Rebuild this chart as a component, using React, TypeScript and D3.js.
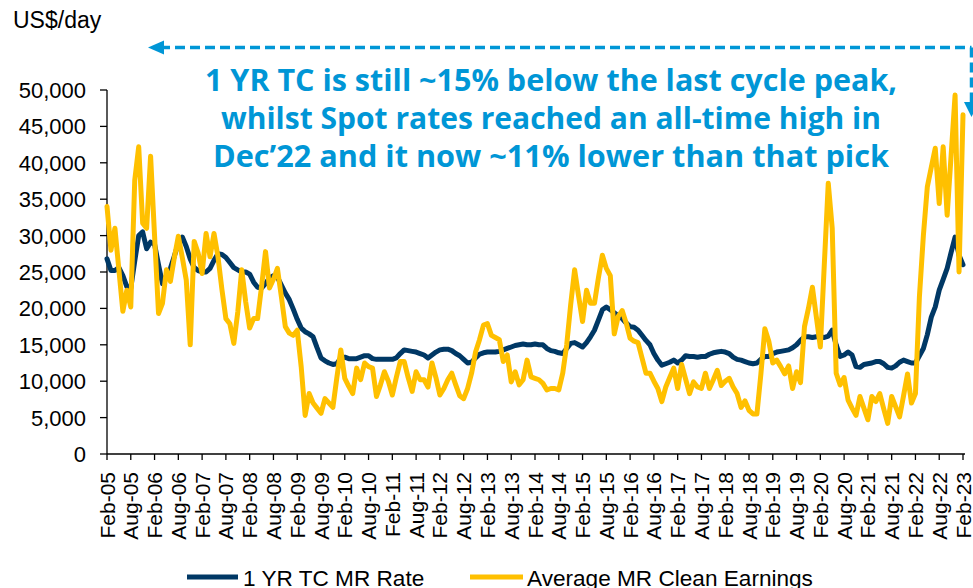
import React from "react";
import * as d3 from "d3";

// Monthly data, Feb-05 .. Feb-23 (US$/day)
const startYear = 2005;
const startMonth = 1; // February (0-based)

const tcRate = [
  26800, 25200, 25200, 25600, 24500, 23000, 22800, 26500, 30000, 30500, 28200, 29100,
  28800, 26000, 23400, 24500, 25500, 27200, 29000, 29800, 28500, 26800, 25600, 25200,
  25000, 25000, 25500, 26600, 27500, 27400, 27000, 26300, 25600, 25300, 25000, 25000,
  24700, 23600, 22900, 22800, 23400, 24200, 24500, 24300, 23200, 22100, 21200, 19900,
  18500, 17300, 16800, 16500, 16100, 14600, 13200, 12800, 12500, 12300, 12400, 13200,
  13300, 13100, 13100, 13100, 13300, 13500, 13500, 13100, 13000, 13000, 13000, 13000,
  13000, 13200, 13800, 14300, 14200, 14100, 14000, 13800, 13600, 13200, 13600, 14000,
  14300, 14400, 14400, 14200, 13800, 13500, 13000, 12500, 12600, 13200, 13700, 13900,
  14000, 14000, 14000, 14100, 14300, 14500, 14700, 14900, 15000, 15100, 15000, 15000,
  15100, 15000, 15000, 14500, 14200, 14100, 13900, 13800, 14500, 15200, 15300, 15000,
  14700, 15300, 16100, 17000, 18400, 19800, 20200, 19800, 19400, 19000, 18600, 18000,
  17500, 17400, 17000, 16300, 15600, 15000, 13800, 12900, 12200, 12400, 12600, 12900,
  12500, 12900, 13500, 13400, 13400, 13300, 13400, 13400, 13700, 13900, 14000, 14100,
  14000, 13800, 13300, 13000, 12900, 12700, 12500, 12400, 12500, 13000, 13400, 13400,
  13800, 14000, 14100, 14200, 14300, 14600, 15000, 15600, 16100, 16100, 16000, 16100,
  16100, 16000, 16200, 17000, 15000, 13400, 13600, 14000, 13600, 12000, 11900, 12300,
  12400, 12500, 12700, 12700, 12400, 11900, 11800, 12100, 12600, 12900, 12700, 12500,
  12500, 13500, 14500, 16400, 18800, 20200, 22500, 24000, 25500, 27700, 29800, 27300,
  26000,
];

const cleanEarnings = [
  34000, 28000, 31000, 25300, 19600, 22500, 20200, 37600, 42200, 31700, 31000, 40900,
  30000, 19300, 20700, 25300, 23700, 27000, 29900, 27000, 23900, 15000, 29200, 27600,
  24800, 30300, 27100, 30300, 27100, 22600, 18600, 17900, 15200, 19500, 25300, 20900,
  17300, 18600, 18600, 23000, 27800, 22800, 24000, 25500, 21600, 17500, 16600, 16300,
  17000, 12000, 5300, 8300, 7000, 6300, 5600, 7600, 7000, 6400, 10500, 14300,
  10400, 9300, 8300, 11800, 10200, 12500, 12000, 11800, 7900, 9500, 11300, 10000,
  8100, 10500, 12700, 12700, 10500, 8600, 11300, 10200, 10200, 9200, 12500, 10500,
  8100, 9000, 10200, 11100, 9500, 8000, 7600, 9000, 11100, 14000, 15700, 17700,
  17900, 16300, 16000, 15700, 12700, 13600, 9900, 11300, 9500, 10200, 12900, 10600,
  10400, 10200, 9700, 8800, 9000, 9000, 8800, 11100, 15000, 20500, 25300, 21700,
  18200, 22500, 20700, 20700, 24200, 27300, 25500, 24500, 16500, 18900, 19700, 18000,
  15900, 15500, 15300, 13200, 11100, 11100, 10000, 9000, 7200, 9200, 10500, 11800,
  9000, 12300, 10300, 8300, 9900, 9200, 9000, 11100, 9000, 10200, 11500, 9400,
  10000, 10400, 9200, 8300, 6400, 7300, 6000, 5500, 5500, 11000, 17200, 15500,
  12500, 12900, 12000, 11000, 12100, 9000, 11300, 9800, 17500, 20000, 22900, 18800,
  14700, 26000, 37200, 31000, 11100, 9500, 10500, 7400, 6300, 5300, 7900, 6300,
  4700, 7900, 7200, 8300, 6200, 4200, 7900, 6500, 5100, 8000, 11000, 7000,
  8300, 21600, 30000, 36700, 39400, 42000, 34400, 42200, 32800, 41000, 49300, 25000,
  46600,
];

const yTicks = [0, 5000, 10000, 15000, 20000, 25000, 30000, 35000, 40000, 45000, 50000];
const xTickStep = 6;

const seriesNames = ["1 YR TC MR Rate", "Average MR Clean Earnings"];
const annotationLines = [
  "1 YR TC is still ~15% below the last cycle peak,",
  "whilst Spot rates reached an all-time high in",
  "Dec\u201922 and it now ~11% lower than that pick",
];
const annotationWidths = [692, 660, 676];
const yUnit = "US$/day";

const NAVY = "#003865";
const YELLOW = "#FFC000";
const BLUE = "#0096D6";
const AXIS_FONT = "'Liberation Sans', Arial, sans-serif";

export default function App() {
  const W = 973;
  const H = 588;
  const nMonths = tcRate.length;
  const x = d3.scaleLinear().domain([0, nMonths - 1]).range([107, 963]);
  const y = d3.scaleLinear().domain([0, 50000]).range([454, 90]);
  const line = d3
    .line<number>()
    .x((_, i) => x(i))
    .y((d) => y(d));
  const fmt = d3.format(",");
  const tf = d3.timeFormat("%b-%y");
  const xTicks = d3.range(0, nMonths, xTickStep);

  return (
    <svg
      width={W}
      height={H}
      viewBox={`0 0 ${W} ${H}`}
      style={{ position: "absolute", left: 0, top: 0, background: "#fff" }}
    >
      <rect width={W} height={H} fill="#fff" />
      {/* unit label */}
      <text x={13} y={28} fontFamily={AXIS_FONT} fontSize={23} fill="#000">
        {yUnit}
      </text>

      {/* y axis */}
      <line x1={107} x2={107} y1={y(50000)} y2={y(0)} stroke="#000" strokeWidth={1.3} />
      {yTicks.map((t) => (
        <g key={t}>
          <line x1={100} x2={107} y1={y(t)} y2={y(t)} stroke="#000" strokeWidth={1.3} />
          <text
            x={86}
            y={y(t)}
            dy="0.36em"
            textAnchor="end"
            fontFamily={AXIS_FONT}
            fontSize={22}
            fill="#000"
          >
            {fmt(t)}
          </text>
        </g>
      ))}

      {/* x axis */}
      <line x1={107} x2={965} y1={y(0)} y2={y(0)} stroke="#000" strokeWidth={1.3} />
      {xTicks.map((i) => (
        <g key={i}>
          <line x1={x(i)} x2={x(i)} y1={y(0)} y2={y(0) + 6} stroke="#000" strokeWidth={1.3} />
          <text
            transform={`translate(${x(i)},${472}) rotate(-90)`}
            textAnchor="end"
            dy="0.36em"
            fontFamily={AXIS_FONT}
            fontSize={21}
            fill="#000"
          >
            {tf(new Date(startYear, startMonth + i, 1))}
          </text>
        </g>
      ))}

      {/* series */}
      <path
        d={line(tcRate) || ""}
        fill="none"
        stroke={NAVY}
        strokeWidth={5}
        strokeLinejoin="round"
        strokeLinecap="round"
      />
      <path
        d={line(cleanEarnings) || ""}
        fill="none"
        stroke={YELLOW}
        strokeWidth={5}
        strokeLinejoin="round"
        strokeLinecap="round"
      />

      {/* annotation arrows */}
      <line x1={160} x2={971.5} y1={47.5} y2={47.5} stroke={BLUE} strokeWidth={3.5} strokeDasharray="10 5" />
      <polygon points="148,47.5 164,40.5 164,54.5" fill={BLUE} />
      <line x1={971.5} x2={971.5} y1={47.5} y2={103} stroke={BLUE} strokeWidth={3.5} strokeDasharray="10 5" />
      <polygon points="971.5,117 964,102 979,102" fill={BLUE} />

      {annotationLines.map((t, k) => (
        <text
          key={k}
          x={551}
          y={91 + k * 38}
          textAnchor="middle"
          fontFamily="'Open Sans', 'Noto Sans', sans-serif"
          fontWeight={700}
          fontSize={29.5}
          textLength={annotationWidths[k]}
          lengthAdjust="spacingAndGlyphs"
          fill={BLUE}
        >
          {t}
        </text>
      ))}

      {/* legend */}
      <line x1={187} x2={238} y1={577} y2={577} stroke={NAVY} strokeWidth={5} />
      <text x={243} y={586} fontFamily={AXIS_FONT} fontSize={22.6} fill="#000">
        {seriesNames[0]}
      </text>
      <line x1={470} x2={523} y1={577} y2={577} stroke={YELLOW} strokeWidth={5} />
      <text x={527} y={586} fontFamily={AXIS_FONT} fontSize={22.6} fill="#000">
        {seriesNames[1]}
      </text>
    </svg>
  );
}
